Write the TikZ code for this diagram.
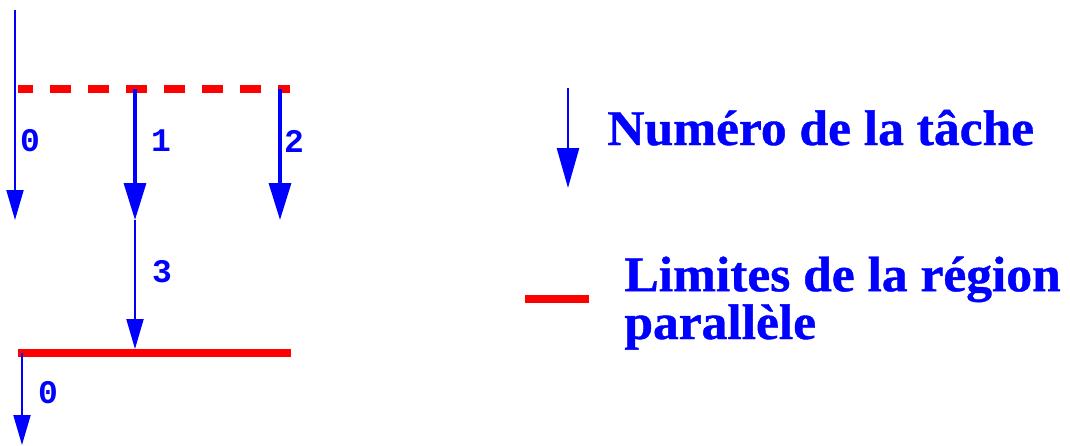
\documentclass[tikz,border=0pt]{standalone}
\usepackage{fontspec}
\usetikzlibrary{arrows.meta}
\newfontfamily\legendfont[FakeStretch=1.03, FakeBold=0.8]{Liberation Serif Bold}
\newfontfamily\numfont{Liberation Mono}

\tikzset{
  task/.style={blue, line width=1pt, -{Triangle[length=15pt,width=8.5pt]}},
  bigtask/.style={blue, line width=1.6pt, -{Triangle[length=18.5pt,width=11pt]}},
  limit/.style={red, line width=4pt},
  tasknum/.style={blue, inner sep=0pt, font=\numfont\bfseries\fontsize{16.5}{16.5}\selectfont},
  legend/.style={blue, inner sep=0pt, align=left, font=\legendfont\fontsize{25}{19.5}\selectfont}
}

\begin{document}
\begin{tikzpicture}[x=0.5pt, y=-0.5pt]
\useasboundingbox (0,0) rectangle (1070,445);
% limits of the parallel region
\coordinate (forkL) at (18,89);
\coordinate (forkR) at (290,89);
\coordinate (joinL) at (18,353);
\coordinate (joinR) at (291,353);
\draw[limit, dash pattern=on 10.5pt off 8.5pt, dash phase=3.2pt] (forkL) -- (forkR);
\draw[limit] (joinL) -- (joinR);
% tasks
\coordinate (top0) at (15,10);
\coordinate (end0) at (15,220);
\coordinate (top1) at (135,89);
\coordinate (end1) at (135,220);
\coordinate (top2) at (280,89);
\coordinate (end2) at (280,220);
\coordinate (end3) at (135,349);
\coordinate (top4) at (22,353);
\coordinate (end4) at (22,445);
\draw[task] (top0) -- (end0);
\draw[bigtask] (top1) -- (end1);
\draw[bigtask] (top2) -- (end2);
\draw[task] (end1) -- (end3);
\draw[task] (top4) -- (end4);
\node[tasknum] (num0) at (30,141) {0};
\node[tasknum] (num1) at (161,141) {1};
\node[tasknum] (num2) at (294,141) {2};
\node[tasknum] (num3) at (162,272) {3};
\node[tasknum] (num4) at (48,393) {0};
% legend
\coordinate (keyA) at (568,88);
\coordinate (keyB) at (568,188);
\coordinate (keyL) at (525,299);
\coordinate (keyR) at (589,299);
\draw[blue, line width=1.3pt, -{Triangle[length=20pt,width=11pt]}] (keyA) -- (keyB);
\draw[limit] (keyL) -- (keyR);
\node[legend, anchor=base west] (keytask) at (607,145) {Numéro de la tâche};
\node[legend, anchor=base west] (keyregion) at (624,339) {Limites de la région\\parallèle};
\end{tikzpicture}
\end{document}
